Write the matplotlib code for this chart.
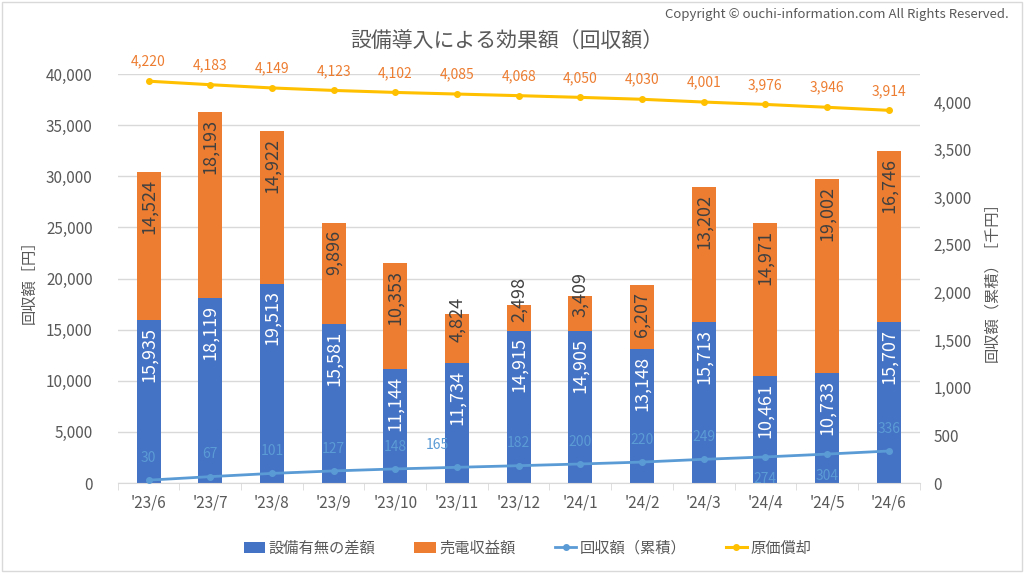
import matplotlib.pyplot as plt
import numpy as np

plt.rcParams['font.family'] = ['Noto Sans CJK JP', 'DejaVu Sans']

# data
months = ["'23/6", "'23/7", "'23/8", "'23/9", "'23/10", "'23/11", "'23/12",
          "'24/1", "'24/2", "'24/3", "'24/4", "'24/5", "'24/6"]
diff = [15935, 18119, 19513, 15581, 11144, 11734, 14915, 14905, 13148, 15713, 10461, 10733, 15707]
sales = [14524, 18193, 14922, 9896, 10353, 4824, 2498, 3409, 6207, 13202, 14971, 19002, 16746]
cumul = [30, 67, 101, 127, 148, 165, 182, 200, 220, 249, 274, 304, 336]
deprec = [4220, 4183, 4149, 4123, 4102, 4085, 4068, 4050, 4030, 4001, 3976, 3946, 3914]
cumul_below = [274, 304]

c_blue = '#4472C4'
c_orange = '#ED7D31'
c_line = '#5B9BD5'
c_yellow = '#FFC000'
c_text = '#595959'
c_dark = '#404040'

fig = plt.figure(figsize=(10.24, 5.74), dpi=100)
ax = fig.add_axes([0.115, 0.1585, 0.783, 0.7125])
ax2 = ax.twinx()

x = np.arange(len(months))
ax.bar(x, diff, width=0.39, color=c_blue, label='設備有無の差額', zorder=2)
ax.bar(x, sales, width=0.39, bottom=diff, color=c_orange, label='売電収益額', zorder=2)

# bar labels (rotated, "inside end" like excel)
for i in x:
    ax.annotate(f'{diff[i]:,}', (i, diff[i]), xytext=(0, -5), textcoords='offset points',
                rotation=90, ha='center', va='top', color='white', fontsize=13, zorder=3)
    top = diff[i] + sales[i]
    if sales[i] > 6000:
        ax.annotate(f'{sales[i]:,}', (i, top), xytext=(0, -5), textcoords='offset points',
                    rotation=90, ha='center', va='top', color=c_dark, fontsize=13, zorder=3)
    else:
        ax.text(i, diff[i] + sales[i] / 2 - 400, f'{sales[i]:,}', rotation=90, ha='center',
                va='bottom', color=c_dark, fontsize=13, zorder=3)

ax2.plot(x, cumul, color=c_line, marker='o', markersize=4, linewidth=2, label='回収額（累積）', zorder=4)
ax2.plot(x, deprec, color=c_yellow, marker='o', markersize=4, linewidth=2.2, label='原価償却', zorder=4)

for i in x:
    if cumul[i] in cumul_below:
        ax2.annotate(f'{cumul[i]:,}', (i, cumul[i]), xytext=(0, -11), textcoords='offset points',
                     ha='center', va='top', color=c_line, fontsize=10)
    else:
        dx = -14 if cumul[i] == 165 else 0
        ax2.annotate(f'{cumul[i]:,}', (i, cumul[i]), xytext=(dx, 11), textcoords='offset points',
                     ha='center', va='bottom', color=c_line, fontsize=10)
    ax2.annotate(f'{deprec[i]:,}', (i, deprec[i]), xytext=(0, 9), textcoords='offset points',
                 ha='center', va='bottom', color=c_orange, fontsize=10)

ax.set_xlim(-0.5, len(months) - 0.5)
ax.set_ylim(0, 40000)
ax2.set_ylim(0, 4295)
ax.set_yticks(np.arange(0, 40001, 5000))
ax2.set_yticks(np.arange(0, 4001, 500))
ax.yaxis.set_major_formatter(plt.FuncFormatter(lambda v, p: f'{int(v):,}'))
ax2.yaxis.set_major_formatter(plt.FuncFormatter(lambda v, p: f'{int(v):,}'))
ax.set_xticks(x)
ax.set_xticklabels(months)
ax.set_xticks(np.arange(-0.5, len(months), 1), minor=True)

ax.grid(axis='y', color='#D9D9D9', linewidth=1, zorder=0)
ax.set_axisbelow(True)
for a in (ax, ax2):
    for s in ['top', 'left', 'right']:
        a.spines[s].set_visible(False)
    a.spines['bottom'].set_color('#D9D9D9')
ax2.spines['bottom'].set_visible(False)

ax.tick_params(axis='y', length=0, labelsize=11, colors=c_text, pad=18)
ax2.tick_params(axis='y', length=0, labelsize=11, colors=c_text, pad=10)
ax.tick_params(axis='x', which='major', length=0, labelsize=11, colors=c_text, pad=8)
ax.tick_params(axis='x', which='minor', length=5, color='#D9D9D9')

ax.set_ylabel('回収額［円］', fontsize=11, color=c_text, labelpad=6)
ax2.set_ylabel('回収額（累積）［千円］', fontsize=11, color=c_text, labelpad=8)

fig.text(0.495, 0.928, '設備導入による効果額（回収額）', ha='center', va='center', fontsize=15, color=c_text)
fig.text(0.985, 0.975, 'Copyright © ouchi-information.com All Rights Reserved.', ha='right', va='center',
         fontsize=9.5, color=c_text)

h1, l1 = ax.get_legend_handles_labels()
h2, l2 = ax2.get_legend_handles_labels()
fig.legend(h1 + h2, l1 + l2, loc='center', bbox_to_anchor=(0.515, 0.045), ncol=4, frameon=False,
           fontsize=11, labelcolor=c_text, handlelength=1.4, handletextpad=0.2, columnspacing=2.6)

fig.patches.append(plt.Rectangle((0.002, 0.006), 0.996, 0.99, transform=fig.transFigure,
                                 fill=False, edgecolor='#D9D9D9', linewidth=1))

fig.savefig('out.png', dpi=100)
